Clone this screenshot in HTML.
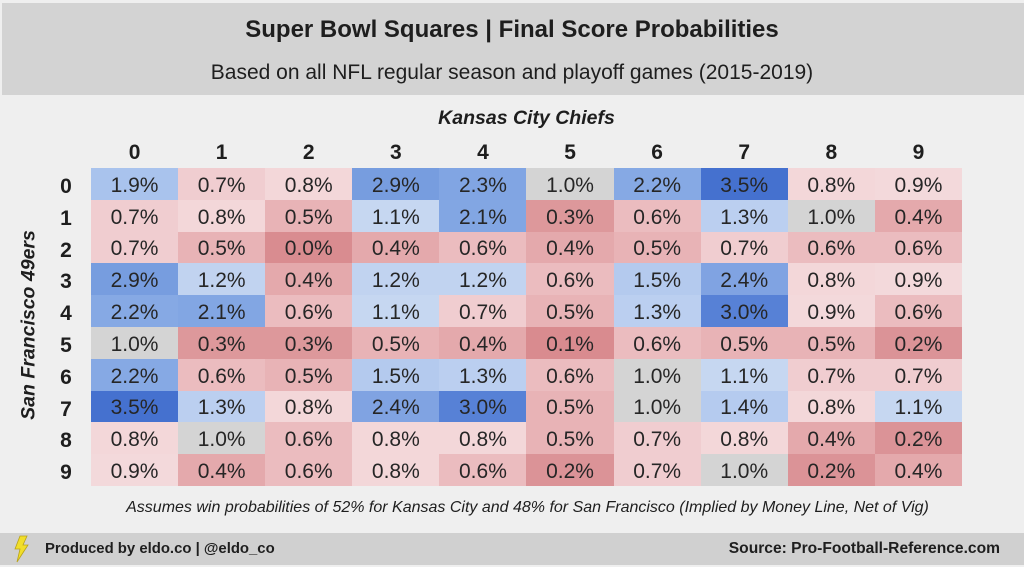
<!DOCTYPE html>
<html><head><meta charset="utf-8">
<style>
html,body{margin:0;padding:0;}
body{width:1024px;height:567px;position:relative;overflow:hidden;background:#efefef;font-family:"Liberation Sans",Arial,sans-serif;color:#1e1e1e;}
.abs{position:absolute;}
.hdr{left:2px;top:3px;width:1022px;height:92px;background:#d3d3d3;}
.ftr{left:0;top:533px;width:1024px;height:32px;background:#d0d0d0;}
.ctr{left:0;width:1024px;text-align:center;white-space:nowrap;}
.title{top:16px;font-size:24px;font-weight:bold;line-height:28px;}
.sub{top:61px;font-size:21px;line-height:24px;}
.kc{top:106px;font-size:19.5px;font-weight:bold;font-style:italic;line-height:24px;left:0;width:1053px;}
.grid{left:91px;top:168px;width:871px;height:318px;display:grid;grid-template-columns:repeat(10,1fr);grid-template-rows:repeat(10,1fr);}
.grid div{display:flex;align-items:center;justify-content:center;font-size:21px;padding-top:4px;box-sizing:border-box;color:#262626;}
.colh{top:141px;font-size:21px;font-weight:bold;line-height:24px;width:87.1px;text-align:center;}
.rowh{left:56px;width:20px;font-size:21px;font-weight:bold;text-align:center;line-height:24px;}
.ylab{left:29px;top:325px;transform:translate(-50%,-50%) rotate(-90deg);font-size:19.5px;font-weight:bold;font-style:italic;white-space:nowrap;}
.note{top:498px;font-size:16px;font-style:italic;line-height:20px;left:0;width:1055px;}
.fl{left:45px;top:540px;font-size:14.9px;font-weight:bold;line-height:18px;white-space:nowrap;}
.fr{right:24px;top:540px;font-size:15.6px;font-weight:bold;line-height:18px;white-space:nowrap;}
</style></head><body>
<div class="abs hdr"></div>
<div class="abs ctr title">Super Bowl Squares | Final Score Probabilities</div>
<div class="abs ctr sub">Based on all NFL regular season and playoff games (2015-2019)</div>
<div class="abs ctr kc">Kansas City Chiefs</div>

<div class="abs colh" style="left:91px">0</div>
<div class="abs colh" style="left:178.1px">1</div>
<div class="abs colh" style="left:265.2px">2</div>
<div class="abs colh" style="left:352.3px">3</div>
<div class="abs colh" style="left:439.4px">4</div>
<div class="abs colh" style="left:526.5px">5</div>
<div class="abs colh" style="left:613.6px">6</div>
<div class="abs colh" style="left:700.7px">7</div>
<div class="abs colh" style="left:787.8px">8</div>
<div class="abs colh" style="left:874.9px">9</div>

<div class="abs rowh" style="top:175px">0</div>
<div class="abs rowh" style="top:206.8px">1</div>
<div class="abs rowh" style="top:238.6px">2</div>
<div class="abs rowh" style="top:270.4px">3</div>
<div class="abs rowh" style="top:302.2px">4</div>
<div class="abs rowh" style="top:334px">5</div>
<div class="abs rowh" style="top:365.8px">6</div>
<div class="abs rowh" style="top:397.6px">7</div>
<div class="abs rowh" style="top:429.4px">8</div>
<div class="abs rowh" style="top:461.2px">9</div>

<div class="abs ylab">San Francisco 49ers</div>

<div class="abs grid">
<div style="background:#a9c3ed">1.9%</div><div style="background:#f0cdd0">0.7%</div><div style="background:#f3d7d9">0.8%</div><div style="background:#779ddf">2.9%</div><div style="background:#81a5e3">2.3%</div><div style="background:#d4d4d4">1.0%</div><div style="background:#86a9e4">2.2%</div><div style="background:#4571cf">3.5%</div><div style="background:#f3d7d9">0.8%</div><div style="background:#f3d9db">0.9%</div>
<div style="background:#f0cdd0">0.7%</div><div style="background:#f3d7d9">0.8%</div><div style="background:#e8b3b6">0.5%</div><div style="background:#c6d7f1">1.1%</div><div style="background:#82a6e3">2.1%</div><div style="background:#dd989b">0.3%</div><div style="background:#ebbcbf">0.6%</div><div style="background:#bbcff0">1.3%</div><div style="background:#d4d4d4">1.0%</div><div style="background:#e4a9ac">0.4%</div>
<div style="background:#f0cdd0">0.7%</div><div style="background:#e8b3b6">0.5%</div><div style="background:#d98c90">0.0%</div><div style="background:#e4a9ac">0.4%</div><div style="background:#ebbcbf">0.6%</div><div style="background:#e4a9ac">0.4%</div><div style="background:#e8b3b6">0.5%</div><div style="background:#f0cdd0">0.7%</div><div style="background:#ebbcbf">0.6%</div><div style="background:#ebbcbf">0.6%</div>
<div style="background:#779ddf">2.9%</div><div style="background:#c1d3f0">1.2%</div><div style="background:#e4a9ac">0.4%</div><div style="background:#c1d3f0">1.2%</div><div style="background:#c1d3f0">1.2%</div><div style="background:#ebbcbf">0.6%</div><div style="background:#b4caee">1.5%</div><div style="background:#80a3e2">2.4%</div><div style="background:#f3d7d9">0.8%</div><div style="background:#f3d9db">0.9%</div>
<div style="background:#86a9e4">2.2%</div><div style="background:#82a6e3">2.1%</div><div style="background:#ebbcbf">0.6%</div><div style="background:#c6d7f1">1.1%</div><div style="background:#f0cdd0">0.7%</div><div style="background:#e8b3b6">0.5%</div><div style="background:#bbcff0">1.3%</div><div style="background:#5781d6">3.0%</div><div style="background:#f3d9db">0.9%</div><div style="background:#ebbcbf">0.6%</div>
<div style="background:#d4d4d4">1.0%</div><div style="background:#dd989b">0.3%</div><div style="background:#dd989b">0.3%</div><div style="background:#e8b3b6">0.5%</div><div style="background:#e4a9ac">0.4%</div><div style="background:#d98b8f">0.1%</div><div style="background:#ebbcbf">0.6%</div><div style="background:#e8b3b6">0.5%</div><div style="background:#e8b3b6">0.5%</div><div style="background:#db9397">0.2%</div>
<div style="background:#86a9e4">2.2%</div><div style="background:#ebbcbf">0.6%</div><div style="background:#e8b3b6">0.5%</div><div style="background:#b4caee">1.5%</div><div style="background:#bbcff0">1.3%</div><div style="background:#ebbcbf">0.6%</div><div style="background:#d4d4d4">1.0%</div><div style="background:#c6d7f1">1.1%</div><div style="background:#f0cdd0">0.7%</div><div style="background:#f0cdd0">0.7%</div>
<div style="background:#4571cf">3.5%</div><div style="background:#bbcff0">1.3%</div><div style="background:#f3d7d9">0.8%</div><div style="background:#80a3e2">2.4%</div><div style="background:#5781d6">3.0%</div><div style="background:#e8b3b6">0.5%</div><div style="background:#d4d4d4">1.0%</div><div style="background:#b5cbef">1.4%</div><div style="background:#f3d7d9">0.8%</div><div style="background:#c6d7f1">1.1%</div>
<div style="background:#f3d7d9">0.8%</div><div style="background:#d4d4d4">1.0%</div><div style="background:#ebbcbf">0.6%</div><div style="background:#f3d7d9">0.8%</div><div style="background:#f3d7d9">0.8%</div><div style="background:#e8b3b6">0.5%</div><div style="background:#f0cdd0">0.7%</div><div style="background:#f3d7d9">0.8%</div><div style="background:#e4a9ac">0.4%</div><div style="background:#db9397">0.2%</div>
<div style="background:#f3d9db">0.9%</div><div style="background:#e4a9ac">0.4%</div><div style="background:#ebbcbf">0.6%</div><div style="background:#f3d7d9">0.8%</div><div style="background:#ebbcbf">0.6%</div><div style="background:#db9397">0.2%</div><div style="background:#f0cdd0">0.7%</div><div style="background:#d4d4d4">1.0%</div><div style="background:#db9397">0.2%</div><div style="background:#e4a9ac">0.4%</div>
</div>

<div class="abs ctr note">Assumes win probabilities of 52% for Kansas City and 48% for San Francisco (Implied by Money Line, Net of Vig)</div>

<div class="abs ftr"></div>
<svg class="abs" style="left:11px;top:535px" width="20" height="28" viewBox="0 0 20 28">
<polygon points="9,1 16,1 12,10 17,10 6,27 9,14 4,14" fill="#f1de2a" stroke="#b9a318" stroke-width="0.8"/>
</svg>
<div class="abs fl">Produced by eldo.co | @eldo_co</div>
<div class="abs fr">Source: Pro-Football-Reference.com</div>
</body></html>
